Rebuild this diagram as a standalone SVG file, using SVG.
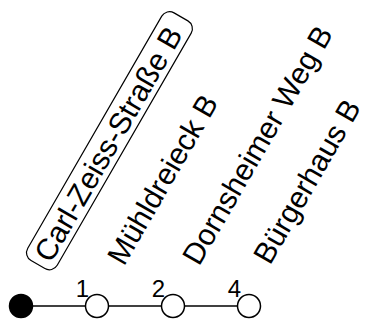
<svg xmlns="http://www.w3.org/2000/svg" width="366" height="322" viewBox="0 0 366 322">
<style>
.lbl{font-family:"Liberation Sans",Arial,sans-serif;font-size:30px;fill:#000}
.num{font-family:"Liberation Sans",Arial,sans-serif;font-size:24px;fill:#000;text-anchor:end}
.st{stroke:#000;stroke-width:1.5}
</style>
<rect width="366" height="322" fill="#fff"/>
<g id="connectors">
<line class="st" x1="21" y1="306" x2="249" y2="306"/>
</g>
<g id="n0">
<circle cx="21" cy="306" r="11.5" fill="#000" class="st"/>
<g transform="translate(51,264) rotate(-60)">
<rect x="-7" y="-28" width="286" height="34" rx="9" fill="none" stroke="#000" stroke-width="1.2"/>
<text class="lbl" x="0" y="0">Carl-Zeiss-Straße B</text>
</g>
</g>
<g id="n1">
<circle cx="97" cy="306" r="11.5" fill="#fff" class="st"/>
<text class="num" x="89" y="297">1</text>
<text class="lbl" transform="translate(124,267) rotate(-60)">Mühldreieck B</text>
</g>
<g id="n2">
<circle cx="173" cy="306" r="11.5" fill="#fff" class="st"/>
<text class="num" x="165" y="297">2</text>
<text class="lbl" transform="translate(199,267) rotate(-60)">Dornsheimer Weg B</text>
</g>
<g id="n4">
<circle cx="249" cy="306" r="11.5" fill="#fff" class="st"/>
<text class="num" x="241" y="297">4</text>
<text class="lbl" transform="translate(270,266) rotate(-60)">Bürgerhaus B</text>
</g>
</svg>
